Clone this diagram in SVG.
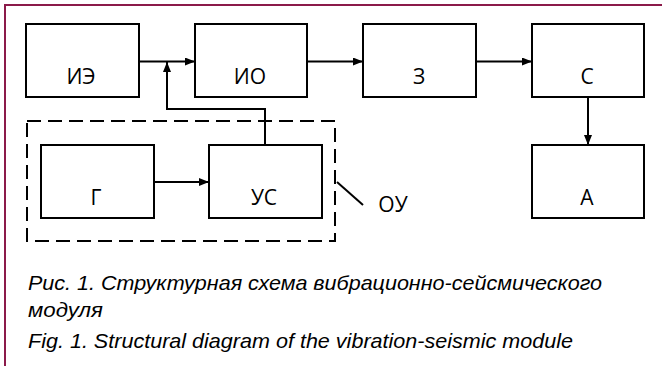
<svg xmlns="http://www.w3.org/2000/svg" width="662" height="366" viewBox="0 0 662 366">
<style>
.box{fill:#fff;stroke:#000;stroke-width:2}
.lbl{font-family:"Open Sans","Liberation Sans",sans-serif;font-size:21px;fill:#000;text-anchor:middle}
.ln{fill:none;stroke:#000;stroke-width:2}
.cap{font-family:"Liberation Sans",sans-serif;font-style:italic;font-size:21px;fill:#000}
</style>
<defs>
<marker id="ah" markerWidth="10" markerHeight="8" refX="10" refY="4" orient="auto" markerUnits="userSpaceOnUse">
<path d="M0,0 L10,4 L0,8 Z" fill="#000"/>
</marker>
</defs>
<rect x="0" y="0" width="662" height="366" fill="#fff"/>
<path d="M5,366 V5 H662" fill="none" stroke="#8B1A4A" stroke-width="2"/>
<g id="n-IE"><rect class="box" x="26" y="24" width="113" height="73"/><text class="lbl" x="81" y="84">ИЭ</text></g>
<g id="n-IO"><rect class="box" x="195" y="24" width="112" height="73"/><text class="lbl" x="250" y="84">ИО</text></g>
<g id="n-Z"><rect class="box" x="363" y="24" width="113" height="73"/><text class="lbl" x="419" y="84">З</text></g>
<g id="n-S"><rect class="box" x="532" y="24" width="112" height="73"/><text class="lbl" x="587" y="84">С</text></g>
<g id="n-A"><rect class="box" x="532" y="145" width="112" height="73"/><text class="lbl" x="587" y="205">А</text></g>
<g id="n-G"><rect class="box" x="41" y="145" width="113" height="73"/><text class="lbl" x="96" y="205">Г</text></g>
<g id="n-US"><rect class="box" x="209" y="145" width="113" height="73"/><text class="lbl" x="264" y="205">УС</text></g>
<g id="n-OU"><rect x="27" y="121" width="308" height="120" fill="none" stroke="#000" stroke-width="2" stroke-dasharray="14,7"/><text class="lbl" x="393" y="212">ОУ</text></g>
<g id="connectors">
<line class="ln" x1="139" y1="61.5" x2="195" y2="61.5" marker-end="url(#ah)"/>
<line class="ln" x1="307" y1="61.5" x2="363" y2="61.5" marker-end="url(#ah)"/>
<line class="ln" x1="476" y1="61.5" x2="532" y2="61.5" marker-end="url(#ah)"/>
<line class="ln" x1="588" y1="97" x2="588" y2="145" marker-end="url(#ah)"/>
<line class="ln" x1="154" y1="182" x2="209" y2="182" marker-end="url(#ah)"/>
<polyline class="ln" points="265,145 265,109 167,109 167,62" marker-end="url(#ah)"/>
<line class="ln" x1="337" y1="182" x2="363" y2="205"/>
</g>
<text class="cap" x="28" y="290" textLength="574" lengthAdjust="spacingAndGlyphs">Рис. 1. Структурная схема вибрационно-сейсмического</text>
<text class="cap" x="28" y="317" textLength="75" lengthAdjust="spacingAndGlyphs">модуля</text>
<text class="cap" x="28" y="348" textLength="545" lengthAdjust="spacingAndGlyphs">Fig. 1. Structural diagram of the vibration-seismic module</text>
</svg>
